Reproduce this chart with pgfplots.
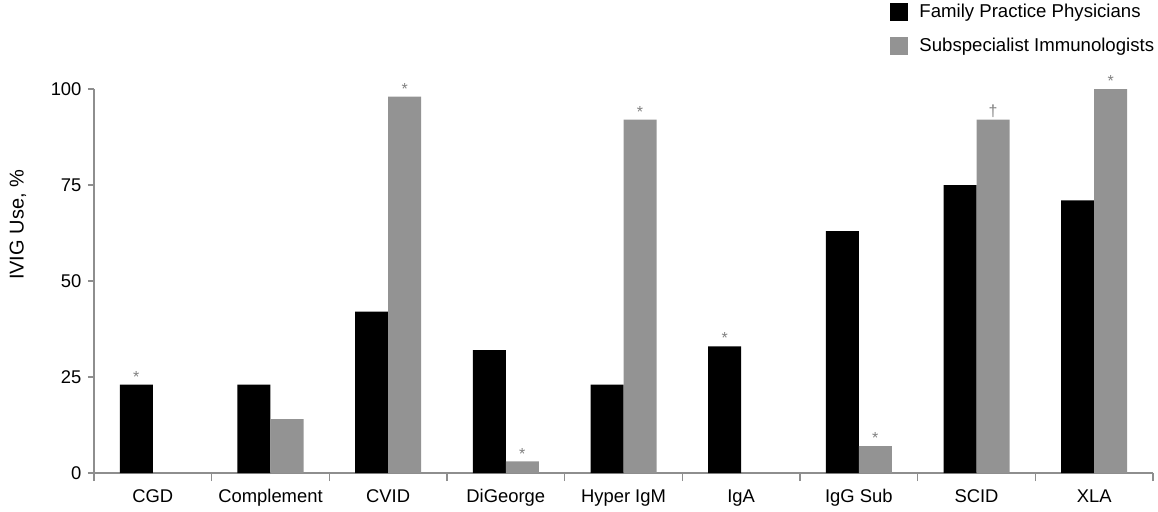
\documentclass[border=0pt]{standalone}
\usepackage{fontspec}
\setmainfont{Liberation Sans}
\usepackage{pgfplots}
\usepackage{pgfplotstable}
\pgfplotsset{compat=1.18}
\definecolor{barGray}{HTML}{939393}
\definecolor{axGray}{HTML}{8E8E8E}
\definecolor{starGray}{HTML}{808080}
\pgfplotstableread{
x fam famlab imm immlab
1 23 * 0 {}
2 23 {} 14 {}
3 42 {} 98 *
4 32 {} 3 *
5 23 {} 92 *
6 33 * 0 {}
7 63 {} 7 *
8 75 {} 92 †
9 71 {} 100 *
}\datatable
\begin{document}
\fontsize{9.2}{11}\selectfont
\begin{tikzpicture}
\begin{axis}[
  name=ax,
  scale only axis,
  width=529.5pt, height=192pt,
  xmin=0.5, xmax=9.5, ymin=0, ymax=100,
  clip=false,
  ybar=0pt, bar width=16.5pt,
  axis x line=bottom, axis y line=left,
  axis line style={axGray, line width=0.75pt, -},
  xtick={1,...,9},
  xticklabels={CGD,Complement,CVID,DiGeorge,Hyper IgM,IgA,IgG Sub,SCID,XLA},
  minor xtick={0.5,1.5,...,9.5},
  every major x tick/.append style={draw=none},
  every minor x tick/.append style={axGray, line width=0.75pt},
  minor tick length=4pt,
  major tick length=3pt,
  tick align=outside,
  ytick={0,25,50,75,100},
  every major y tick/.append style={axGray, line width=0.75pt},
  /pgf/number format/assume math mode=true,
  x tick label style={yshift=-2pt},
  ylabel={IVIG Use, \%},
  every axis y label/.style={at={(axis description cs:0,0.646)}, xshift=-38pt, rotate=90, anchor=center, font=\fontsize{10}{12}\selectfont},
  nodes near coords,
  point meta=explicit symbolic,
  every node near coord/.append style={font=\fontsize{8}{9}\selectfont, text=starGray, inner sep=1pt},
  legend style={at={(axis description cs:0.7517,1.232)}, anchor=north west, draw=none, fill=none, inner sep=0pt, row sep=4.5pt,
    font=\fontsize{9.3}{11}\selectfont,
    /tikz/every odd column/.append style={column sep=3.5pt}},
  legend cell align=left,
  legend image code/.code={\fill[#1] (0pt,-4.5pt) rectangle (9pt,4.5pt);},
]
\addplot[fill=black, draw=none] table[x=x, y=fam, meta=famlab] {\datatable};
\addplot[fill=barGray, draw=none] table[x=x, y=imm, meta=immlab] {\datatable};
\legend{Family Practice Physicians, Subspecialist Immunologists}
\end{axis}
\pgfresetboundingbox
\path ([shift={(-47pt,-19pt)}]ax.south west) rectangle ([shift={(532pt,236.5pt)}]ax.south west);
\end{tikzpicture}
\end{document}
